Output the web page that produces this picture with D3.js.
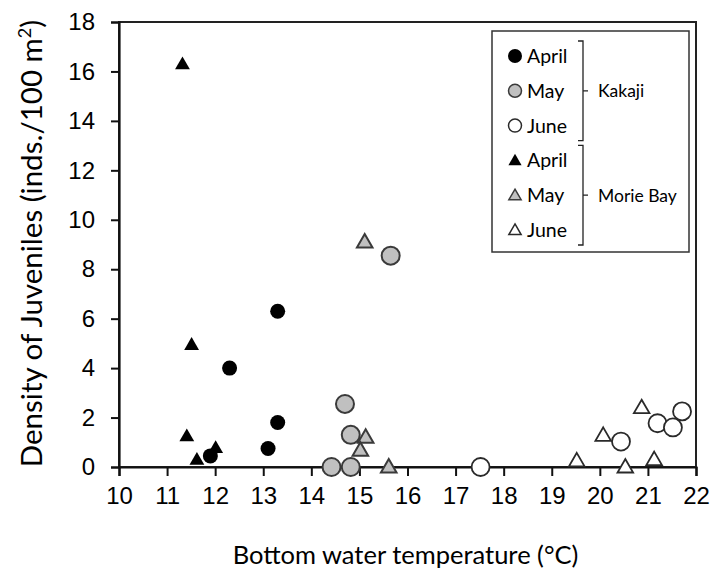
<!DOCTYPE html>
<html>
<head>
<meta charset="utf-8">
<script src="https://cdn.jsdelivr.net/npm/d3@7"></script>
<style>
  body { margin: 0; background: #fff; }
  svg { font-family: Lato, "Open Sans", sans-serif; }
  .tick text { font-size: 24px; fill: #000; }
</style>
</head>
<body>
<div id="chart"></div>
<script>
// Kakaji (circles) and Morie Bay (triangles), by month
var kakajiApril = [[13.3, 6.3], [12.3, 4.0], [13.3, 1.8], [13.1, 0.75], [11.9, 0.45]];
var kakajiMay = [[15.65, 8.55], [14.7, 2.55], [14.82, 1.3], [14.42, 0], [14.82, 0]];
var kakajiJune = [[17.52, 0], [20.44, 1.03], [21.2, 1.77], [21.52, 1.6], [21.71, 2.25]];
var morieApril = [[11.32, 16.3], [11.51, 4.95], [11.41, 1.25], [11.62, 0.3], [12.01, 0.78]];
var morieMay = [[15.11, 9.1], [15.13, 1.2], [15.02, 0.68], [15.61, 0]];
var morieJune = [[19.52, 0.25], [20.07, 1.28], [20.53, 0], [20.87, 2.4], [21.13, 0.3]];

var xTicks = d3.range(10, 23, 1);
var yTicks = d3.range(0, 19, 2);

var width = 713, height = 573;
var margins = { top: 22, right: 17, bottom: 106, left: 119 };
var plotW = width - margins.left - margins.right;
var plotH = height - margins.top - margins.bottom;

var styles = {
  april: { fill: "#000", stroke: "#000", sw: 0 },
  may: { fill: "#c0c0c0", stroke: "#3a3a3a", sw: 2 },
  june: { fill: "#fff", stroke: "#2a2a2a", sw: 1.8 }
};

var series = [
  { data: kakajiApril, shape: "circle", st: styles.april, r: 7.5 },
  { data: kakajiMay, shape: "circle", st: styles.may, r: 9 },
  { data: kakajiJune, shape: "circle", st: styles.june, r: 9 },
  { data: morieApril, shape: "tri", st: styles.april, s: 95 },
  { data: morieMay, shape: "tri", st: styles.may, s: 105 },
  { data: morieJune, shape: "tri", st: styles.june, s: 105 }
];

var svg = d3.select("#chart").append("svg")
  .attr("width", width)
  .attr("height", height);

var g = svg.append("g")
  .attr("transform", "translate(" + margins.left + "," + margins.top + ")");

var xScale = d3.scaleLinear().domain([10, 22]).range([0, plotW]);
var yScale = d3.scaleLinear().domain([0, 18]).range([plotH, 0]);

// frame
g.append("rect")
  .attr("width", plotW)
  .attr("height", plotH)
  .style("fill", "none")
  .style("stroke", "#222")
  .style("stroke-width", 2);

var xAxis = g.append("g")
  .attr("transform", "translate(0," + plotH + ")")
  .call(d3.axisBottom(xScale).tickValues(xTicks).tickSize(9).tickPadding(11).tickFormat(d3.format("d")));

var yAxis = g.append("g")
  .call(d3.axisLeft(yScale).tickValues(yTicks).tickSize(8).tickPadding(16).tickFormat(d3.format("d")));

[xAxis, yAxis].forEach(function(ax) {
  ax.select(".domain").style("stroke", "#111").style("stroke-width", 2.2);
  ax.selectAll(".tick line").style("stroke", "#111").style("stroke-width", 2);
});

// markers
series.forEach(function(s) {
  if (s.shape == "circle") {
    g.selectAll(null)
      .data(s.data).join("circle")
      .attr("cx", d => xScale(d[0]))
      .attr("cy", d => yScale(d[1]))
      .attr("r", s.r)
      .style("fill", s.st.fill)
      .style("stroke", s.st.stroke)
      .style("stroke-width", s.st.sw);
  } else {
    var sym = d3.symbol().type(d3.symbolTriangle).size(s.s);
    g.selectAll(null)
      .data(s.data).join("path")
      .attr("transform", d => "translate(" + xScale(d[0]) + "," + (yScale(d[1]) + 1) + ")")
      .attr("d", sym)
      .style("fill", s.st.fill)
      .style("stroke", s.st.stroke)
      .style("stroke-width", s.st.sw)
      .style("stroke-linejoin", "miter");
  }
});

// legend
var legendItems = [
  { label: "April", shape: "circle", st: styles.april, r: 7 },
  { label: "May", shape: "circle", st: styles.may, r: 6.5 },
  { label: "June", shape: "circle", st: styles.june, r: 6.5 },
  { label: "April", shape: "tri", st: styles.april, s: 75 },
  { label: "May", shape: "tri", st: styles.may, s: 65 },
  { label: "June", shape: "tri", st: styles.june, s: 65 }
];
var groups = [
  { label: "Kakaji", from: 0, to: 2 },
  { label: "Morie Bay", from: 3, to: 5 }
];

var legend = svg.append("g").attr("transform", "translate(492,31)");
legend.append("rect")
  .attr("width", 197)
  .attr("height", 221)
  .style("fill", "#fff")
  .style("stroke", "#333")
  .style("stroke-width", 1.5);

var rowY = d3.scaleLinear().domain([0, 5]).range([25, 199]);

var rows = legend.selectAll(".legend-row")
  .data(legendItems).join("g")
  .attr("class", "legend-row")
  .attr("transform", (d, i) => "translate(23," + rowY(i) + ")");

rows.each(function(d) {
  var row = d3.select(this);
  if (d.shape == "circle") {
    row.append("circle").attr("r", d.r)
      .style("fill", d.st.fill).style("stroke", d.st.stroke).style("stroke-width", d.st.sw ? 1.5 : 0);
  } else {
    row.append("path").attr("d", d3.symbol().type(d3.symbolTriangle).size(d.s))
      .attr("transform", "translate(0,1)")
      .style("fill", d.st.fill).style("stroke", d.st.stroke).style("stroke-width", d.st.sw ? 1.5 : 0);
  }
  row.append("text")
    .attr("x", 12)
    .attr("dy", "0.36em")
    .style("font-size", "19.5px")
    .style("fill", "#000")
    .text(d.label);
});

groups.forEach(function(grp) {
  var y0 = rowY(grp.from) - 15, y1 = rowY(grp.to) + 15, ym = (y0 + y1) / 2;
  var bx = 91;
  legend.append("path")
    .attr("d", "M" + (bx - 5) + "," + y0 + "H" + bx + "V" + y1 + "H" + (bx - 5) + "M" + bx + "," + ym + "H" + (bx + 5))
    .style("fill", "none")
    .style("stroke", "#222")
    .style("stroke-width", 1.3);
  legend.append("text")
    .attr("x", bx + 15)
    .attr("y", ym)
    .attr("dy", "0.36em")
    .style("font-size", "17.5px")
    .style("fill", "#000")
    .text(grp.label);
});

// axis titles
svg.append("text")
  .attr("x", margins.left + plotW / 2 - 2)
  .attr("y", 564)
  .attr("text-anchor", "middle")
  .style("font-size", "25.5px")
  .style("fill", "#000")
  .text("Bottom water temperature (°C)");

var yTitle = svg.append("text")
  .attr("transform", "translate(42," + (margins.top + plotH / 2 - 1) + ") rotate(-90)")
  .attr("text-anchor", "middle")
  .style("font-size", "29.5px")
  .style("fill", "#000");
yTitle.append("tspan").text("Density of Juveniles (inds./100 m");
yTitle.append("tspan").attr("dy", -11).style("font-size", "18px").text("2");
yTitle.append("tspan").attr("dy", 11).text(")");
</script>
</body>
</html>
